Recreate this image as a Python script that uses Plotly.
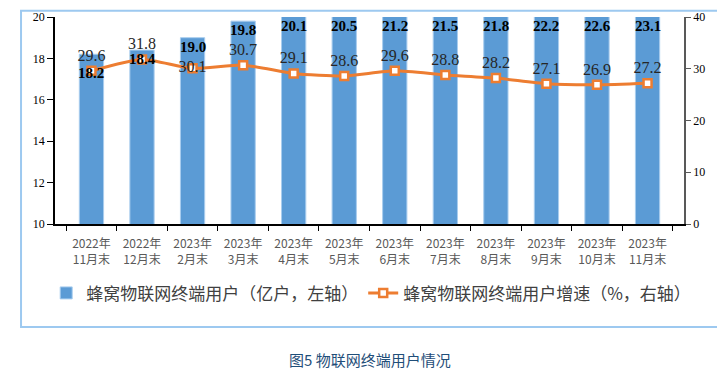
import plotly.graph_objects as go

categories = ["2022年<br>11月末", "2022年<br>12月末", "2023年<br>2月末", "2023年<br>3月末",
              "2023年<br>4月末", "2023年<br>5月末", "2023年<br>6月末", "2023年<br>7月末",
              "2023年<br>8月末", "2023年<br>9月末", "2023年<br>10月末", "2023年<br>11月末"]
users = [18.2, 18.4, 19.0, 19.8, 20.1, 20.5, 21.2, 21.5, 21.8, 22.2, 22.6, 23.1]
growth = [29.6, 31.8, 30.1, 30.7, 29.1, 28.6, 29.6, 28.8, 28.2, 27.1, 26.9, 27.2]

bar_name = "蜂窝物联网终端用户（亿户，左轴）"
line_name = "蜂窝物联网终端用户增速（%，右轴）"
caption = "图5 物联网终端用户情况"

L_MIN, L_MAX = 10, 20
R_MIN, R_MAX = 0, 40

line_text_pos = ["top center"] * len(growth)
line_text_pos[2] = "middle center"

fig = go.Figure()
fig.add_trace(go.Bar(
    x=categories, y=users, name=bar_name,
    marker=dict(color="#5B9BD5", line=dict(color="#A9CDEE", width=1)),
    width=0.48, yaxis="y",
))
fig.add_trace(go.Scatter(
    x=categories, y=growth, name=line_name, yaxis="y2",
    mode="lines+markers+text",
    line=dict(color="#ED7D31", width=3, shape="spline", smoothing=0.6),
    marker=dict(symbol="square", size=8, color="white", line=dict(color="#ED7D31", width=2.5)),
    text=[f"{v:.1f}" for v in growth], textposition=line_text_pos,
    textfont=dict(family="Liberation Serif", size=16, color="#262626"),
    cliponaxis=False,
))

annotations = []
for i, (c, v) in enumerate(zip(categories, users)):
    annotations.append(dict(
        x=c, y=min(v, L_MAX), xref="x", yref="y", text=f"<b>{v:.1f}</b>",
        showarrow=False, yanchor="middle", yshift=-19 if i == 0 else -9,
        font=dict(family="Liberation Serif", size=15, color="#000000"),
    ))
annotations.append(dict(
    x=0.5, y=-0.657, xref="paper", yref="paper", text=caption, showarrow=False,
    xanchor="center", yanchor="middle",
    font=dict(family="Noto Sans CJK SC", size=15, color="#1F4E79"),
))

fig.update_layout(
    width=717, height=370,
    margin=dict(l=47, r=41, t=9, b=154, autoexpand=False),
    paper_bgcolor="white", plot_bgcolor="white",
    bargap=0.52,
    showlegend=True,
    legend=dict(orientation="h", x=-0.014, y=-0.335, xanchor="left", yanchor="middle",
                font=dict(family="Noto Sans CJK SC", size=17, color="#404040"),
                bgcolor="rgba(0,0,0,0)", itemwidth=30),
    xaxis=dict(
        type="category", showline=True, linecolor="#000000", linewidth=1.5,
        ticks="outside", tickson="boundaries", ticklen=5, tickcolor="#000000",
        tickfont=dict(family="Noto Sans CJK SC", size=12, color="#595959"),
        ticklabelstandoff=8,
        showgrid=False, zeroline=False, automargin=False,
    ),
    yaxis=dict(
        range=[L_MIN, L_MAX], dtick=2, showline=True, linecolor="#000000", linewidth=1.5,
        ticks="outside", ticklen=6, tickcolor="#000000",
        tickfont=dict(family="Liberation Serif", size=12, color="#000000"),
        showgrid=False, zeroline=False, automargin=False,
    ),
    yaxis2=dict(
        range=[R_MIN, R_MAX], dtick=10, overlaying="y", side="right",
        showline=True, linecolor="#595959", linewidth=1.5,
        ticks="outside", ticklen=5, tickcolor="#595959",
        tickfont=dict(family="Liberation Serif", size=12, color="#000000"),
        showgrid=False, zeroline=False, automargin=False,
    ),
    annotations=annotations,
    shapes=[dict(type="rect", xref="paper", yref="paper",
                 x0=-0.054, x1=1.0556, y0=-0.4976, y1=1.03,
                 line=dict(color="#9DC9F0", width=2), fillcolor="rgba(0,0,0,0)", layer="below")],
)

fig.write_html("out.html")
